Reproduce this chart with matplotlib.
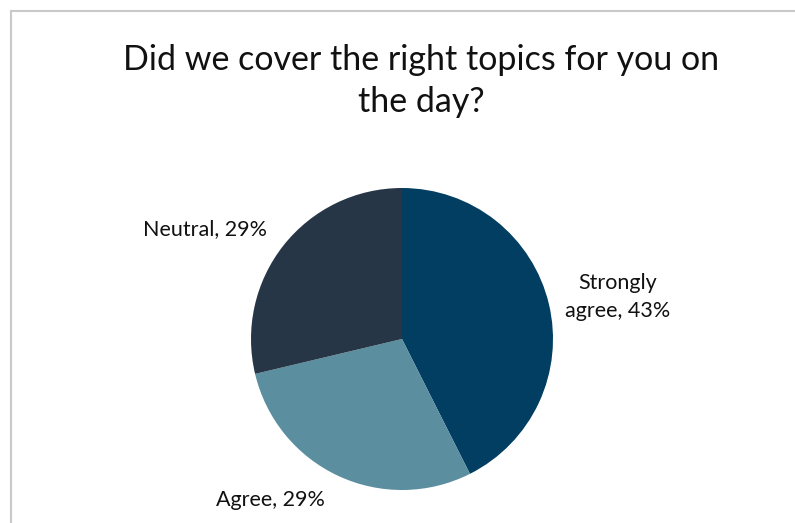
import matplotlib.pyplot as plt
from matplotlib.patches import Rectangle

plt.rcParams['font.family'] = ['Lato', 'DejaVu Sans']

categories = ["Strongly agree", "Agree", "Neutral"]
shares = [43, 29, 29]
colors = ["#013e61", "#5b8e9f", "#263646"]
label_text = ["Strongly\nagree, 43%", "Agree, 29%", "Neutral, 29%"]
# label anchor points in pixels (x from left, y from top)
label_pos = [(618, 297), (270, 500), (205, 229)]

W, H = 795, 523
fig = plt.figure(figsize=(W / 100, H / 100), dpi=100)
ax = fig.add_axes([0, 0, 1, 1])

# chart frame
ax.add_patch(Rectangle((10.5, -10), W, H - 10.5 + 10, fill=False,
                       edgecolor="#c9c9c9", linewidth=1.5))

ax.pie(shares, colors=colors, startangle=90, counterclock=False,
       center=(402, H - 339), radius=151, frame=True,
       wedgeprops=dict(linewidth=0))
ax.set_xlim(0, W)
ax.set_ylim(0, H)
ax.set_aspect('equal')
ax.axis('off')

for txt, (x, y) in zip(label_text, label_pos):
    ax.text(x, H - y, txt, ha='center', va='center', fontsize=15.5,
            color="#111111", linespacing=1.45)

ax.text(W / 2 + 24, H - 81, "Did we cover the right topics for you on\nthe day?",
        ha='center', va='center', fontsize=24.5, color="#111111",
        linespacing=1.35)

fig.savefig("out.png", dpi=100)
